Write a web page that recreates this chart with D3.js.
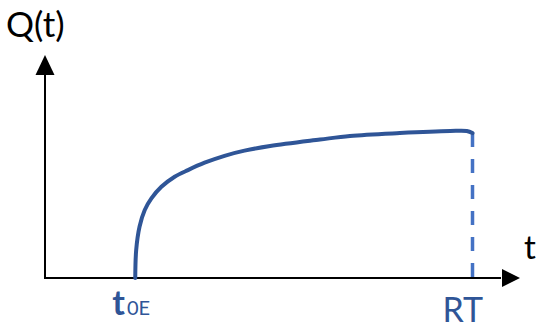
<!DOCTYPE html>
<html>
<head>
<meta charset="utf-8">
<script src="https://cdn.jsdelivr.net/npm/d3@7"></script>
<style>
  body { margin: 0; background: #fff; }
  svg { display: block; }
  text { font-family: Lato, "Open Sans", sans-serif; }
</style>
</head>
<body>
<svg id="chart" width="550" height="332"></svg>
<script>
// curve (t, Q in 0..100 units)
var tValues = [19, 19.2, 19.9, 21, 22.4, 24.5, 27.3, 30.1, 33.6, 37.8, 42, 47.4, 57.9, 64.2, 74.7, 85.3, 88.8, 90];
var qValues = [0, 12.6, 23, 30.5, 35.7, 40.9, 45.4, 48.4, 51.7, 54.8, 57.1, 59.2, 62.1, 63.7, 65.0, 65.9, 65.9, 65.0];
var t0E = 19;
var RT = 90;

var svg = d3.select("#chart");

var x = d3.scaleLinear().domain([0, 100]).range([45, 520]);
var y = d3.scaleLinear().domain([0, 100]).range([278, 55]);

var points = tValues.map(function(t, i) { return [t, qValues[i]]; });

// axes
svg.append("line")
    .attr("x1", x(0)).attr("y1", y(0))
    .attr("x2", x(0)).attr("y2", y(92))
    .attr("stroke", "#000").attr("stroke-width", 2);
svg.append("path")
    .attr("d", "M" + x(0) + "," + y(100) + " l-9.5,20 l19,0 z")
    .attr("fill", "#000");

svg.append("line")
    .attr("x1", x(0) - 1).attr("y1", y(0))
    .attr("x2", x(96)).attr("y2", y(0))
    .attr("stroke", "#000").attr("stroke-width", 2);
svg.append("path")
    .attr("d", "M" + x(100) + "," + y(0) + " l-18,-9 l0,18 z")
    .attr("fill", "#000");

// dashed drop at RT
var qEnd = qValues[qValues.length - 1];
svg.append("line")
    .attr("x1", x(RT)).attr("y1", y(qEnd))
    .attr("x2", x(RT)).attr("y2", y(0))
    .attr("stroke", "#4472C4").attr("stroke-width", 3.5)
    .attr("stroke-dasharray", "14,12");

// main curve
var line = d3.line()
    .x(function(d) { return x(d[0]); })
    .y(function(d) { return y(d[1]); })
    .curve(d3.curveCatmullRom.alpha(0.5));

svg.append("path")
    .datum(points)
    .attr("d", line)
    .attr("fill", "none")
    .attr("stroke", "#2F5597")
    .attr("stroke-width", 4)
    .attr("stroke-linecap", "round");

// labels
svg.append("text").attr("x", 6).attr("y", 37)
    .attr("font-size", 35).attr("fill", "#000").text("Q(t)");
svg.append("text").attr("x", 524).attr("y", 259)
    .attr("font-size", 33).attr("fill", "#000").text("t");

var tl = svg.append("text").attr("x", x(t0E) - 23).attr("y", 315).attr("fill", "#2F5597");
tl.append("tspan").attr("font-size", 34).attr("font-weight", "bold").text("t");
tl.append("tspan").attr("font-size", 20).attr("dx", 2).text("0E");

svg.append("text").attr("x", x(RT) - 30).attr("y", 322)
    .attr("font-size", 34).attr("fill", "#2F5597").text("RT");
</script>
</body>
</html>
